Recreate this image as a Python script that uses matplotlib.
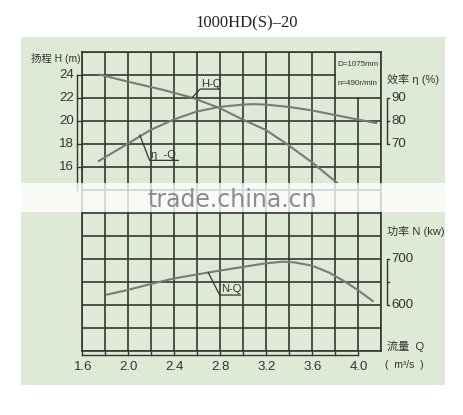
import numpy as np
import matplotlib.pyplot as plt
from matplotlib.patches import Rectangle

plt.rcParams['font.family'] = ['Liberation Sans', 'Noto Sans CJK SC', 'DejaVu Sans']

# Kennlinien 1000HD(S)-20
q_h = [1.76, 2.0, 2.3, 2.56, 2.8, 3.0, 3.2, 3.38, 3.6, 3.82]
h = [24.0, 23.4, 22.7, 22.0, 21.1, 20.1, 19.2, 18.0, 16.4, 14.6]

q_eta = [1.75, 2.0, 2.2, 2.4, 2.6, 2.8, 3.0, 3.1, 3.2, 3.4, 3.6, 3.8, 4.0, 4.16]
eta = [62.5, 70.0, 76.0, 80.5, 84.0, 86.0, 87.0, 87.2, 87.0, 86.0, 84.5, 82.5, 80.5, 79.0]

q_n = [1.82, 2.0, 2.2, 2.4, 2.7, 3.0, 3.2, 3.35, 3.45, 3.6, 3.75, 3.89, 4.0, 4.13]
n = [622, 632, 645, 657, 670, 682, 690, 693.5, 692, 685, 670, 650, 632, 608]

x_ticks = [1.6, 2.0, 2.4, 2.8, 3.2, 3.6, 4.0]
x_labels = ['1.6', '2.0', '2.4', '2.8', '3.2', '3.6', '4.0']
h_ticks = [24, 22, 20, 18, 16]
eta_ticks = [90, 80, 70]
n_ticks = [700, 600]


def eta2h(e):
    return 20 + (np.array(e) - 80) / 5.0


def n2h(p):
    return 4 + (np.array(p) - 600) / 25.0


bg = '#dee9d6'
gridc = '#353535'
curvec = '#7a7a7a'
txtc = '#333333'

fig = plt.figure(figsize=(4.64, 4.15), dpi=100)
fig.patches.append(Rectangle((21 / 464, 1 - 385 / 415), 424 / 464, 348 / 415,
                             transform=fig.transFigure, facecolor=bg, edgecolor='none', zorder=-1))

ax = fig.add_axes([81.7 / 464, 1 - 350.7 / 415, 299 / 464, 299 / 415])
ax.set_facecolor('none')
ax.set_xlim(1.6, 4.2)
ax.set_ylim(0, 26)
ax.set_xticks(np.arange(1.6, 4.21, 0.2))
ax.set_yticks(np.arange(0, 26.1, 2))
ax.tick_params(length=0, labelbottom=False, labelleft=False)
ax.set_axisbelow(True)
ax.grid(True, color=gridc, lw=1.2)
for s in ax.spines.values():
    s.set_color(gridc)
    s.set_linewidth(1.2)

# Feld fuer D / n
ax.add_patch(Rectangle((3.81, 22.08), 0.38, 3.85, facecolor=bg, edgecolor='none', zorder=1))
ax.text(4.0, 24.85, 'D=1075mm', fontsize=5.8, ha='center', va='center', color=txtc)
ax.text(4.0, 23.25, 'n=490r/min', fontsize=5.8, ha='center', va='center', color=txtc)

# Kurven
ax.plot(q_h, h, color=curvec, lw=1.5, zorder=2)
ax.plot(q_eta, eta2h(eta), color=curvec, lw=1.5, zorder=2)
ax.plot(q_n, n2h(n), color=curvec, lw=1.5, zorder=2)

# Beschriftungen der Kurven
ax.plot([2.56, 2.63, 2.79], [22.0, 22.75, 22.75], color=gridc, lw=0.9, zorder=2)
ax.text(2.635, 22.8, 'H-Q', fontsize=8, ha='left', va='bottom', color=txtc, zorder=3)
ax.plot([2.105, 2.19, 2.44], [18.75, 16.55, 16.55], color=gridc, lw=0.9, zorder=2)
ax.text(2.205, 16.6, 'η  -Q', fontsize=8, ha='left', va='bottom', color=txtc, zorder=3)
ax.plot([2.70, 2.80, 2.98], [6.81, 4.84, 4.84], color=gridc, lw=0.9, zorder=2)
ax.text(2.815, 4.9, 'N-Q', fontsize=8, ha='left', va='bottom', color=txtc, zorder=3)

# linke Achse H
ax.plot([1.562, 1.562], [24, 14], color=gridc, lw=1.0, clip_on=False)
for t in h_ticks:
    ax.plot([1.562, 1.6], [t, t], color=gridc, lw=1.0, clip_on=False)
    ax.text(1.535, t, str(t), fontsize=9.5, ha='right', va='center', color=txtc)
ax.text(1.378, 25.45, '扬程 H (m)', fontsize=7.5, ha='center', va='center', color=txtc)

# untere Achse Q
ax.plot([1.6, 4.0], [-0.37, -0.37], color=gridc, lw=1.0, clip_on=False)
for t in np.arange(1.6, 4.01, 0.2):
    ax.plot([t, t], [-0.37, -0.05], color=gridc, lw=1.0, clip_on=False)
for t, lab in zip(x_ticks, x_labels):
    ax.text(t + 0.01, -1.4, lab, fontsize=9.5, ha='center', va='center', color=txtc)
ax.text(4.255, 0.35, '流量  Q', fontsize=8, ha='left', va='center', color=txtc)
ax.text(4.24, -1.2, '(  m³/s  )', fontsize=7.5, ha='left', va='center', color=txtc)

# rechte Achse Wirkungsgrad
ax.text(4.255, 23.55, '效率 η (%)', fontsize=8, ha='left', va='center', color=txtc)
ax.plot([4.272, 4.252, 4.252, 4.272], [eta2h(90), eta2h(90), eta2h(70), eta2h(70)],
        color=gridc, lw=1.0, clip_on=False)
ax.plot([4.252, 4.275], [eta2h(80), eta2h(80)], color=gridc, lw=1.0, clip_on=False)
for t in eta_ticks:
    ax.text(4.29, eta2h(t), str(t), fontsize=9.5, ha='left', va='center', color=txtc)

# rechte Achse Leistung
ax.text(4.255, 10.35, '功率 N (kw)', fontsize=8, ha='left', va='center', color=txtc)
ax.plot([4.272, 4.252, 4.252, 4.272], [n2h(700), n2h(700), n2h(600), n2h(600)],
        color=gridc, lw=1.0, clip_on=False)
ax.plot([4.252, 4.275], [n2h(650), n2h(650)], color=gridc, lw=1.0, clip_on=False)
for t in n_ticks:
    ax.text(4.29, n2h(t), str(t), fontsize=9.5, ha='left', va='center', color=txtc)

# Titel
fig.text(246.7 / 464, 1 - 23 / 415, '1000HD(S)\u201320', fontsize=12, ha='center', va='center',
         family='Liberation Serif', color='#222222')

# Wasserzeichen
fig.patches.append(Rectangle((21 / 464, 1 - 212 / 415), 424 / 464, 29 / 415,
                             transform=fig.transFigure, facecolor='white', alpha=0.78,
                             edgecolor='none', zorder=5))
fig.text(232 / 464, 1 - 200 / 415, 'trade.china.cn', fontsize=17, ha='center', va='center',
         color='#8c8c8c', family='DejaVu Sans', zorder=6)

fig.savefig('out.png', dpi=100)
